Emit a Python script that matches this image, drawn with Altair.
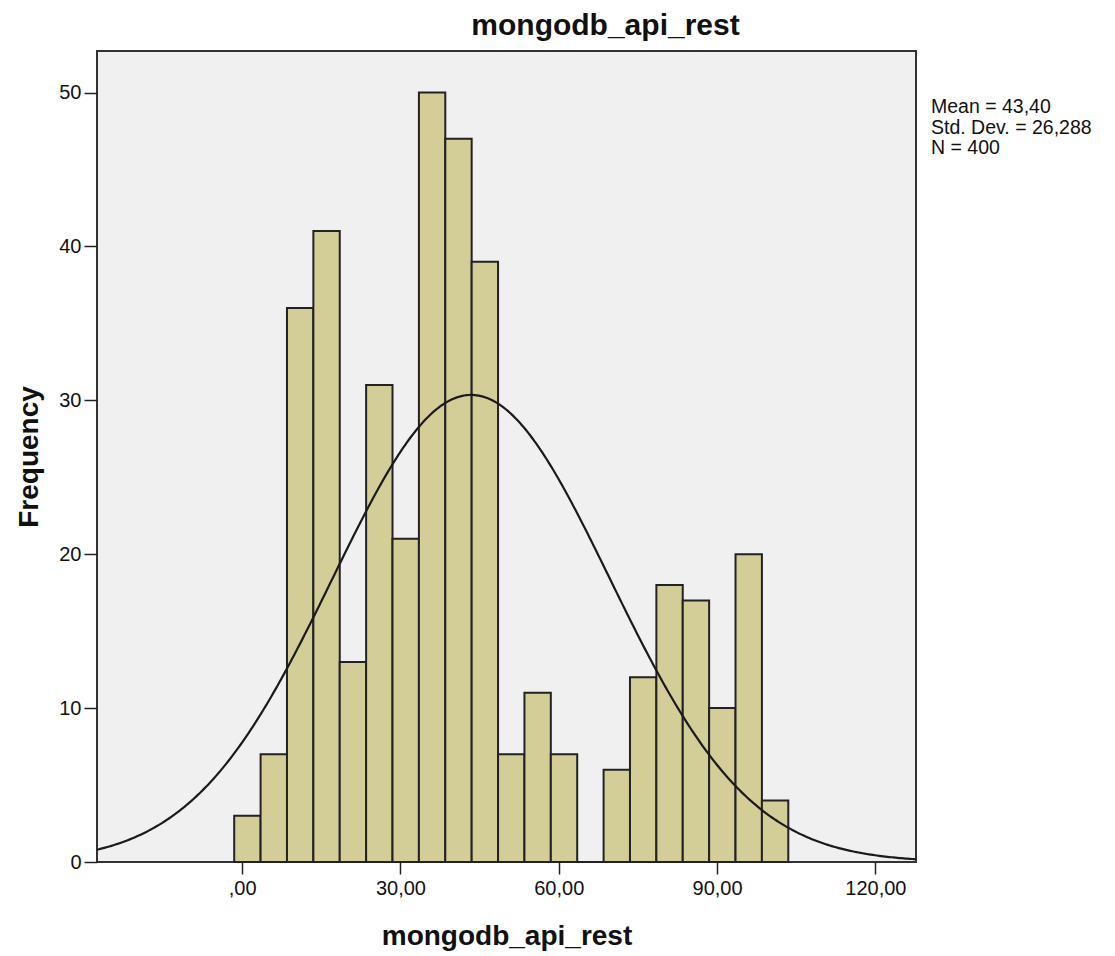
import altair as alt
import numpy as np
import pandas as pd

# Histogram bins (lower / upper edges) and frequencies
bin_lo = [-1.5, 3.5, 8.5, 13.5, 18.5, 23.5, 28.5, 33.5, 38.5, 43.5, 48.5,
          53.5, 58.5, 63.5, 68.5, 73.5, 78.5, 83.5, 88.5, 93.5, 98.5]
bin_hi = [3.5, 8.5, 13.5, 18.5, 23.5, 28.5, 33.5, 38.5, 43.5, 48.5, 53.5,
          58.5, 63.5, 68.5, 73.5, 78.5, 83.5, 88.5, 93.5, 98.5, 103.5]
counts = [3, 7, 36, 41, 13, 31, 21, 50, 47, 39, 7,
          11, 7, 0, 6, 12, 18, 17, 10, 20, 4]

x_ticks = [0, 30, 60, 90, 120]
y_ticks = [0, 10, 20, 30, 40, 50]
x_domain = [-27.5, 127.7]
y_domain = [0, 52.7]

mean_val = 43.40
sd_val = 26.288
n_val = 400
bin_width = 5.0

stats_text = "Mean = 43,40\nStd. Dev. = 26,288\nN = 400"
title_text = "mongodb_api_rest"
x_title = "mongodb_api_rest"
y_title = "Frequency"

FONT = "Liberation Sans"

bars_df = pd.DataFrame({"lo": bin_lo, "hi": bin_hi, "count": counts})

xs = np.linspace(x_domain[0], x_domain[1], 400)
ys = n_val * bin_width / (sd_val * np.sqrt(2 * np.pi)) * np.exp(-0.5 * ((xs - mean_val) / sd_val) ** 2)
curve_df = pd.DataFrame({"x": xs, "y": ys})

x_scale = alt.Scale(domain=x_domain, nice=False, zero=False)
y_scale = alt.Scale(domain=y_domain, nice=False, zero=False)

x_axis = alt.Axis(
    values=x_ticks, grid=False, domain=False, tickSize=12, tickColor="#222",
    tickWidth=1.5, labelFont=FONT, labelFontSize=20, labelColor="#111",
    labelPadding=4,
    labelExpr="datum.value == 0 ? ',00' : replace(format(datum.value, '.2f'), '.', ',')",
    title=x_title, titleFont=FONT, titleFontSize=28, titleFontWeight="bold",
    titleColor="#111", titlePadding=24,
)
y_axis = alt.Axis(
    values=y_ticks, grid=False, domain=False, tickSize=13, tickColor="#222",
    tickWidth=1.5, labelFont=FONT, labelFontSize=20, labelColor="#111",
    labelPadding=3, title=y_title, titleFont=FONT, titleFontSize=28,
    titleFontWeight="bold", titleColor="#111", titlePadding=15,
)

bars = alt.Chart(bars_df).mark_rect(
    fill="#d3ce98", stroke="#222222", strokeWidth=2
).encode(
    x=alt.X("lo:Q", scale=x_scale, axis=x_axis),
    x2="hi:Q",
    y=alt.Y("count:Q", scale=y_scale, axis=y_axis),
    y2=alt.datum(0),
)

curve = alt.Chart(curve_df).mark_line(color="#1a1a1a", strokeWidth=2.2).encode(
    x=alt.X("x:Q", scale=x_scale),
    y=alt.Y("y:Q", scale=y_scale),
)

stats = alt.Chart(pd.DataFrame({"t": [stats_text]})).mark_text(
    align="left", baseline="alphabetic", font=FONT, fontSize=19.5,
    lineBreak="\n", lineHeight=20.5, color="#111"
).encode(
    text="t:N", x=alt.value(834), y=alt.value(62)
)

chart = alt.layer(bars, curve, stats).properties(
    width=819, height=811,
    title=alt.TitleParams(
        title_text, font=FONT, fontSize=30, fontWeight="bold", color="#111",
        anchor="middle", frame="group", dx=99, offset=10,
    ),
    autosize=alt.AutoSizeParams(type="none"),
    padding={"left": 89, "top": 43, "right": 190, "bottom": 94},
    background="white",
).configure_view(
    fill="#f0f0f0", stroke="#333333", strokeWidth=2
)

chart.save("out.html", embed_options={"renderer": "svg", "actions": False})
